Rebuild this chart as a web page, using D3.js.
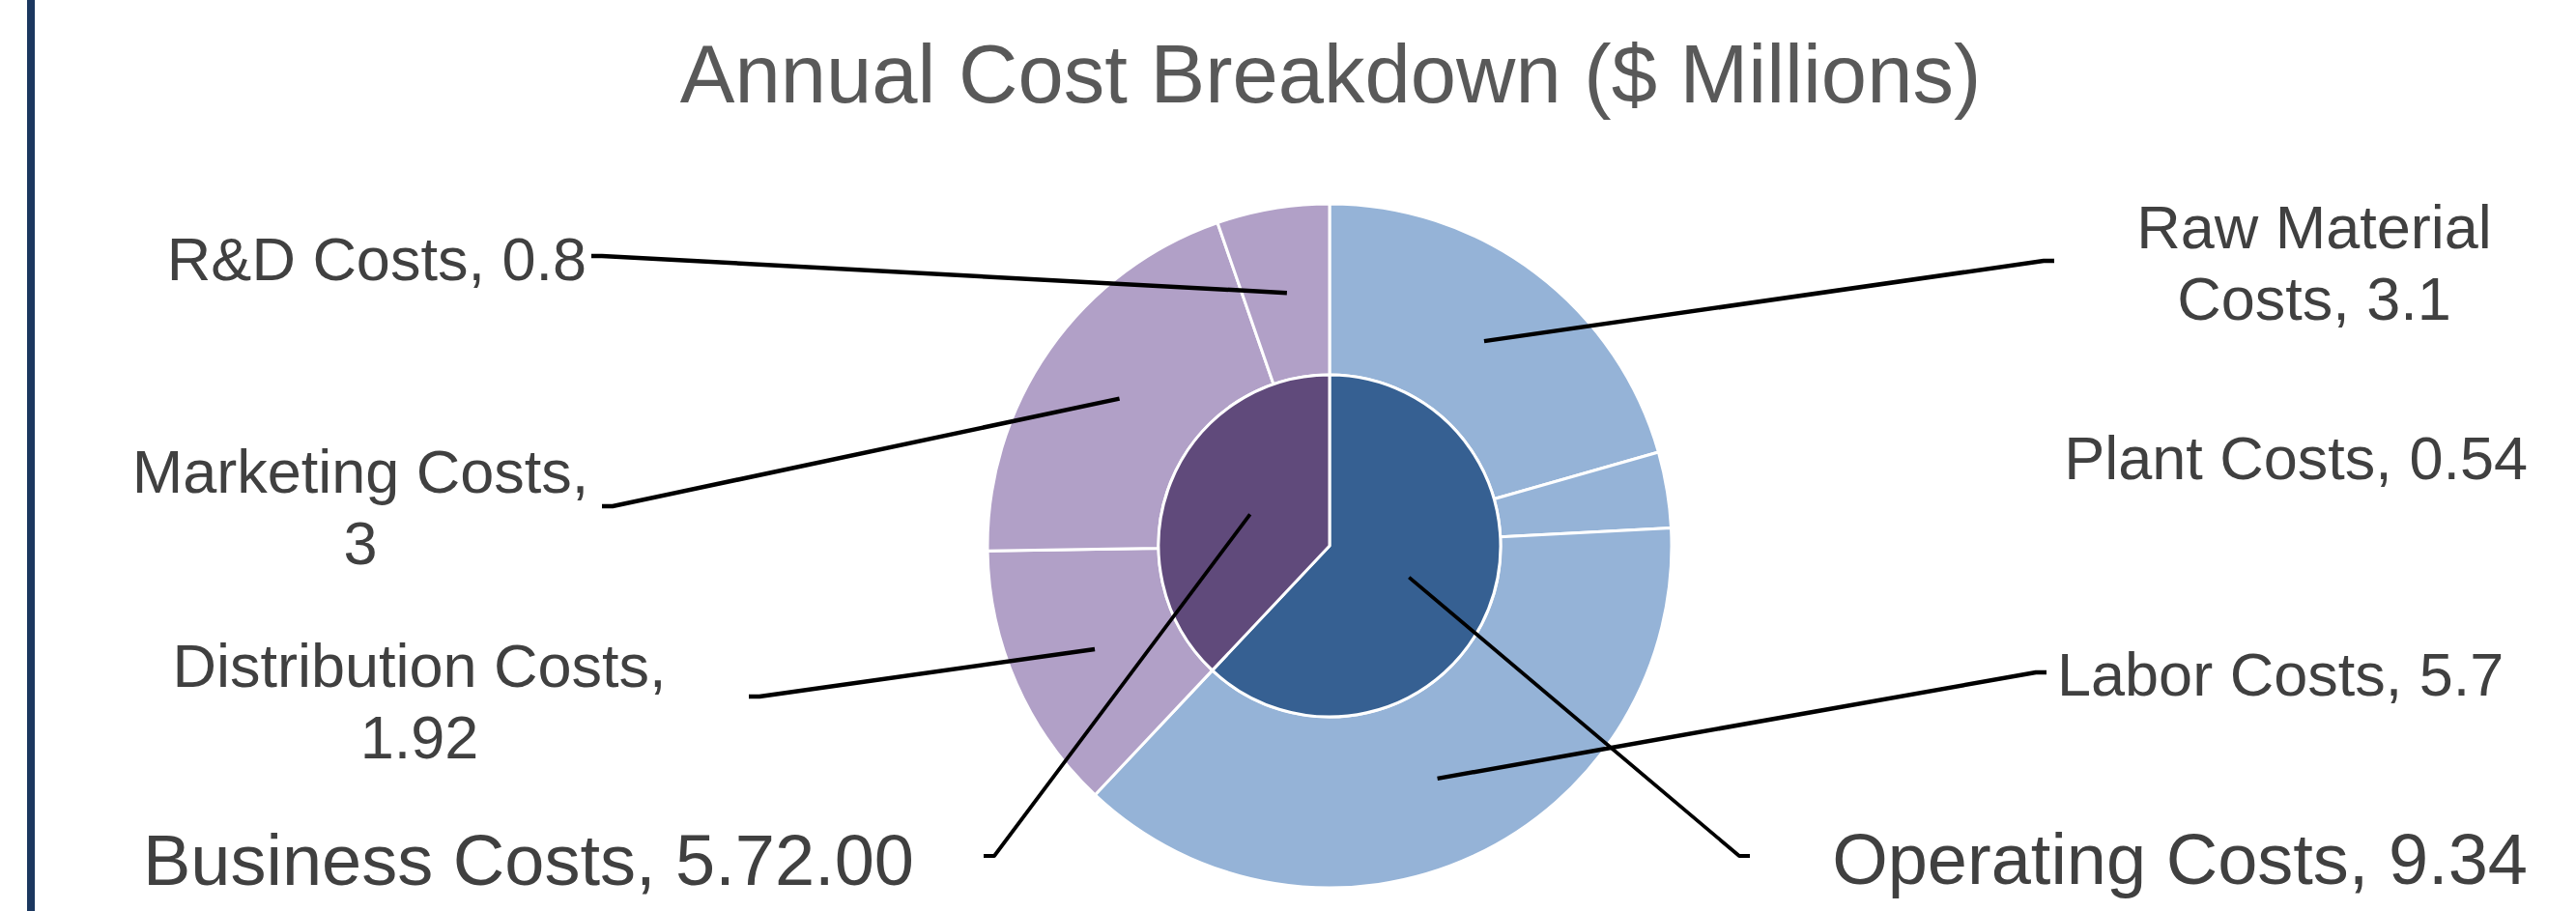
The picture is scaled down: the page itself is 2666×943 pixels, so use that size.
<!DOCTYPE html>
<html>
<head>
<meta charset="utf-8">
<script src="https://cdn.jsdelivr.net/npm/d3@7/dist/d3.min.js"></script>
<style>
  html, body { margin: 0; padding: 0; background: #ffffff; }
  svg { display: block; }
  text { font-family: "Liberation Sans", Arimo, Arial, sans-serif; }
</style>
</head>
<body>
<svg id="chart" width="2666" height="943"></svg>
<script>
// ---- data ----
const title = "Annual Cost Breakdown ($ Millions)";
const innerCategories = ["Operating Costs", "Business Costs"];
const innerValues = [9.34, 5.72];
const innerLabels = ["Operating Costs, 9.34", "Business Costs, 5.72.00"];
const outerCategories = ["Raw Material Costs", "Plant Costs", "Labor Costs", "Distribution Costs", "Marketing Costs", "R&D Costs"];
const outerValues = [3.1, 0.54, 5.7, 1.92, 3, 0.8];
const outerGroups = ["Operating Costs", "Operating Costs", "Operating Costs", "Business Costs", "Business Costs", "Business Costs"];
const outerLabels = [["Raw Material", "Costs, 3.1"], ["Plant Costs, 0.54"], ["Labor Costs, 5.7"], ["Distribution Costs,", "1.92"], ["Marketing Costs,", "3"], ["R&D Costs, 0.8"]];

// ---- layout / style ----
const W = 2666, H = 943;
const cx = 1376, cy = 565;
const rInner = 177, rOuter = 354;
const innerColor = d3.scaleOrdinal().domain(innerCategories).range(["#366092", "#604A7B"]);
const outerColor = d3.scaleOrdinal().domain(innerCategories).range(["#95B3D7", "#B1A0C7"]);

// label placements (text position + leader attach point)
const outerLabelLayout = {
  "Raw Material Costs": { x: 2395, y: 257, anchor: "middle", lx: 2126, ly: 270, dir: -1 },
  "Plant Costs":        { x: 2616, y: 496, anchor: "end", lx: null },
  "Labor Costs":        { x: 2129, y: 720, anchor: "start", lx: 2118, ly: 696, dir: -1 },
  "Distribution Costs": { x: 434, y: 711, anchor: "middle", lx: 775, ly: 721, dir: 1 },
  "Marketing Costs":    { x: 373, y: 510, anchor: "middle", lx: 623, ly: 524, dir: 1 },
  "R&D Costs":          { x: 607, y: 290, anchor: "end", lx: 612, ly: 265, dir: 1 }
};
const innerLabelLayout = {
  "Operating Costs": { x: 2616, y: 915, anchor: "end", lx: 1811, ly: 886, dir: -1 },
  "Business Costs":  { x: 946, y: 916, anchor: "end", lx: 1018, ly: 886, dir: 1 }
};

const svg = d3.select("#chart");

// left frame bar
svg.append("rect").attr("x", 28).attr("y", 0).attr("width", 8).attr("height", H).attr("fill", "#1B375F");

// title
svg.append("text")
  .attr("x", 1377).attr("y", 106)
  .attr("text-anchor", "middle")
  .attr("font-size", 85)
  .attr("fill", "#595959")
  .text(title);

const pie = d3.pie().sort(null).value(d => d);
const innerArcs = pie(innerValues);
const outerArcs = pie(outerValues);

const innerArc = d3.arc().innerRadius(0).outerRadius(rInner);
const outerArc = d3.arc().innerRadius(rInner).outerRadius(rOuter);

const g = svg.append("g").attr("transform", `translate(${cx},${cy})`);

g.selectAll("path.outer").data(outerArcs).enter().append("path")
  .attr("class", "outer")
  .attr("d", outerArc)
  .attr("fill", (d, i) => outerColor(outerGroups[i]))
  .attr("stroke", "#ffffff").attr("stroke-width", 3).attr("stroke-linejoin", "round");

g.selectAll("path.inner").data(innerArcs).enter().append("path")
  .attr("class", "inner")
  .attr("d", innerArc)
  .attr("fill", (d, i) => innerColor(innerCategories[i]))
  .attr("stroke", "#ffffff").attr("stroke-width", 3).attr("stroke-linejoin", "round");

// leader lines
function leader(layout, centroid, width) {
  if (layout.lx == null) return;
  const pts = [
    [layout.lx, layout.ly],
    [layout.lx + layout.dir * 11, layout.ly],
    [cx + centroid[0], cy + centroid[1]]
  ];
  svg.append("path")
    .attr("d", d3.line()(pts))
    .attr("fill", "none")
    .attr("stroke", "#000000")
    .attr("stroke-width", width)
    .attr("stroke-linejoin", "round");
}
outerArcs.forEach((a, i) => leader(outerLabelLayout[outerCategories[i]], outerArc.centroid(a), 4.5));
innerArcs.forEach((a, i) => leader(innerLabelLayout[innerCategories[i]], innerArc.centroid(a), 3.8));

// labels
outerCategories.forEach((c, i) => {
  const L = outerLabelLayout[c];
  const t = svg.append("text")
    .attr("x", L.x).attr("y", L.y)
    .attr("text-anchor", L.anchor)
    .attr("font-size", 63)
    .attr("fill", "#404040");
  outerLabels[i].forEach((line, k) => {
    t.append("tspan").attr("x", L.x).attr("dy", k === 0 ? 0 : 74).text(line);
  });
});
innerCategories.forEach((c, i) => {
  const L = innerLabelLayout[c];
  svg.append("text")
    .attr("x", L.x).attr("y", L.y)
    .attr("text-anchor", L.anchor)
    .attr("font-size", 74)
    .attr("fill", "#404040")
    .text(innerLabels[i]);
});
</script>
</body>
</html>
